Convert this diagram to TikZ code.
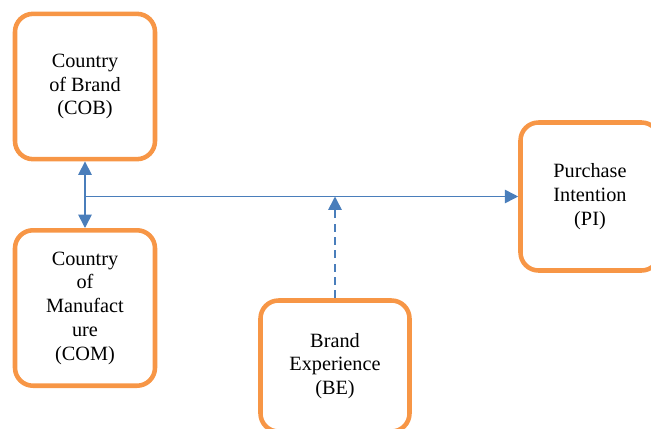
\documentclass[tikz,border=0pt]{standalone}
\usepackage{fontspec}
\setmainfont{Liberation Serif}
\usepackage{xcolor}
\usetikzlibrary{arrows.meta}
\definecolor{boxorange}{HTML}{F79646}
\definecolor{linkblue}{HTML}{4A7EBB}
\tikzset{>={Triangle[length=10pt,width=10pt]}}

\begin{document}
\begin{tikzpicture}[x=0.75pt, y=-0.75pt]
\tikzset{construct/.style={draw=boxorange, line width=3.4pt, rounded corners=13.5pt, align=center, inner sep=0pt, font=\fontsize{15.2}{17.8}\selectfont}}
\tikzset{link/.style={draw=linkblue, line width=1.2pt}}
    \path[use as bounding box, clip] (0,0) rectangle (651,429);

    \node[construct, minimum width=105pt, minimum height=109pt] (cob) at (85,86.5) {Country\\of Brand\\(COB)};
    \node[construct, minimum width=105pt, minimum height=116.6pt] (com) at (85,308) {Country\\of\\Manufact\\ure\\(COM)};
    \node[construct, minimum width=111.75pt, minimum height=98.25pt] (be) at (335,366) {Brand\\Experience\\(BE)};
    \node[construct, minimum width=104.25pt, minimum height=111pt] (pi) at (590,196.5) {Purchase\\Intention\\(PI)};
% % % % % % % % % % % % % % % % % % %
    \draw[link, <->] (cob.south) -- (com.north);
    \draw[link, ->] (cob.south |- pi.west) coordinate (j) -- (pi.west);
    \draw[link, ->, dash pattern=on 6pt off 4pt] (be.north) -- (be.north |- j);
\end{tikzpicture}
\end{document}
